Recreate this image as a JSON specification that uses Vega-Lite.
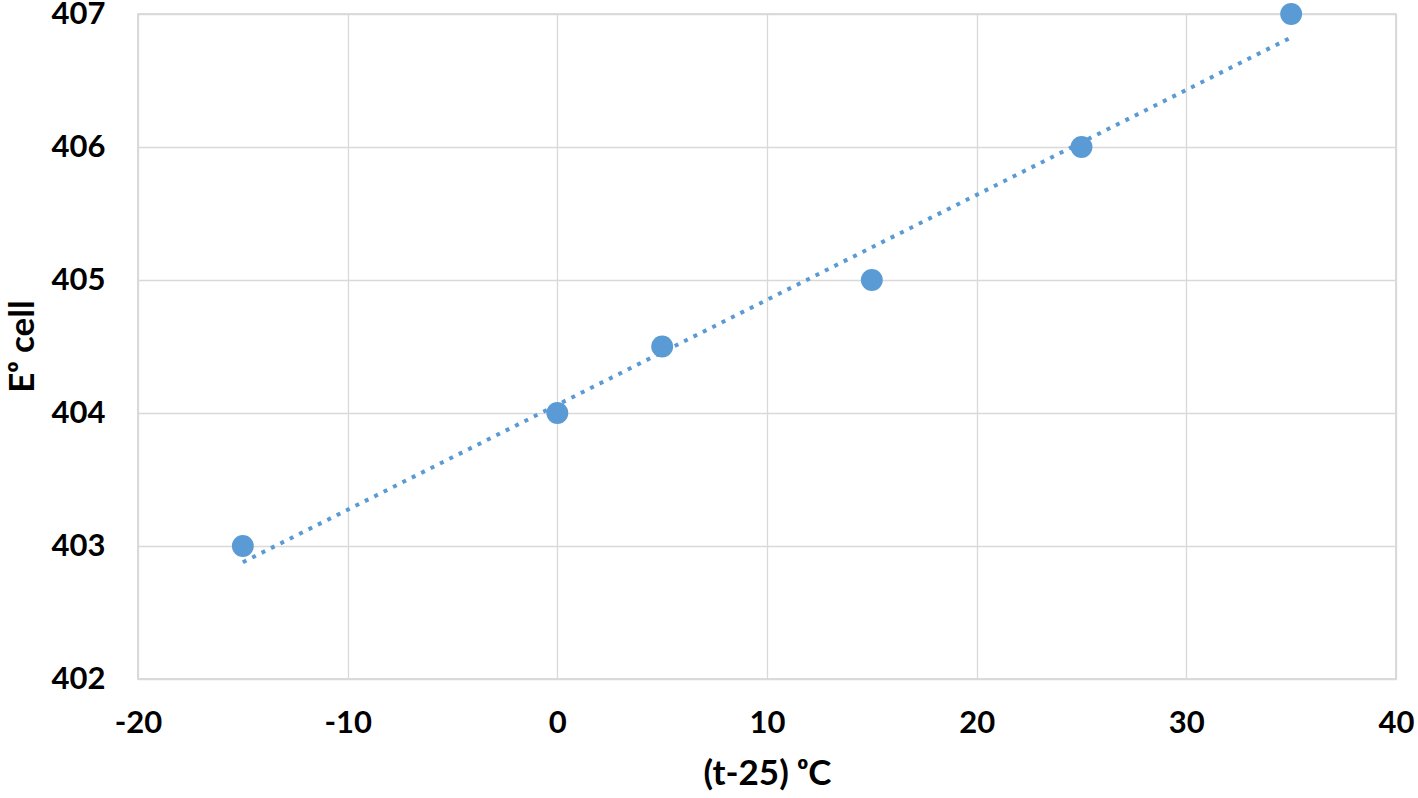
{
  "$schema": "https://vega.github.io/schema/vega-lite/v6.json",
  "autosize": "none",
  "width": 1258,
  "height": 665,
  "padding": {"left": 138, "top": 14, "right": 22, "bottom": 119},
  "background": "white",
  "config": {
    "view": {"stroke": "#D0D0D0", "strokeWidth": 1.5},
    "axis": {
      "labelFont": "Lato",
      "labelFontWeight": "bold",
      "labelFontSize": 31,
      "labelColor": "#000000",
      "titleFont": "Lato",
      "titleFontWeight": "bold",
      "titleFontSize": 35,
      "titleColor": "#000000",
      "gridColor": "#D9D9D9",
      "gridWidth": 1.3,
      "ticks": false,
      "domain": false
    }
  },
  "data": {
    "values": [
      {"t": -15, "E": 403},
      {"t": 0, "E": 404},
      {"t": 5, "E": 404.5},
      {"t": 15, "E": 405},
      {"t": 25, "E": 406},
      {"t": 35, "E": 407}
    ]
  },
  "encoding": {
    "x": {
      "field": "t",
      "type": "quantitative",
      "scale": {"domain": [-20, 40], "nice": false, "zero": false},
      "axis": {"values": [-20, -10, 0, 10, 20, 30, 40], "labelExpr": "'' + datum.value", "title": "(t-25) ᵒC", "labelPadding": 29, "titlePadding": 18, "labelFlush": false}
    },
    "y": {
      "field": "E",
      "type": "quantitative",
      "scale": {"domain": [402, 407], "nice": false, "zero": false},
      "axis": {"values": [402, 403, 404, 405, 406, 407], "labelExpr": "'' + datum.value", "title": "Eᵒ cell", "labelPadding": 33, "titleX": -105, "titleY": 332, "titleAngle": -90, "titleAlign": "center", "titleBaseline": "alphabetic", "labelFlush": false}
    }
  },
  "layer": [
    {
      "transform": [{"regression": "E", "on": "t"}],
      "mark": {"type": "line", "color": "#5B9BD5", "strokeWidth": 4, "strokeDash": [4, 6.5], "clip": false}
    },
    {
      "mark": {"type": "circle", "color": "#5B9BD5", "opacity": 1, "size": 480, "clip": false}
    }
  ]
}
